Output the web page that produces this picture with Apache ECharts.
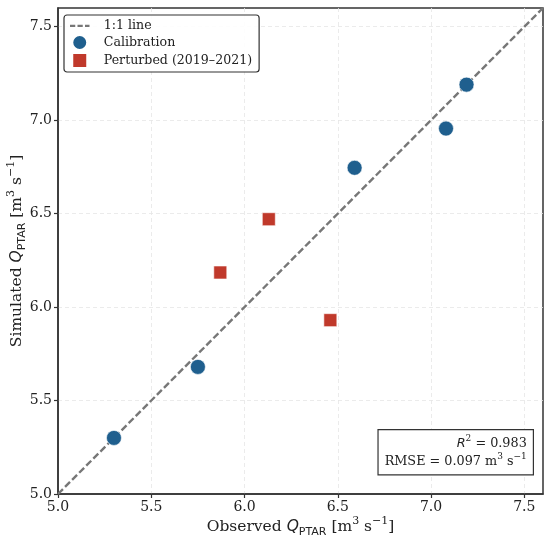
<!DOCTYPE html>
<html>
<head>
<meta charset="utf-8">
<script src="https://cdn.jsdelivr.net/npm/echarts@6/dist/echarts.min.js"></script>
<style>html,body{margin:0;padding:0;background:#fff}#c{width:550px;height:542px}</style>
</head>
<body>
<div id="c"></div>
<script>
// Data
var calibrationObserved = [5.30, 5.75, 6.59, 7.08, 7.19];
var calibrationSimulated = [5.30, 5.68, 6.745, 6.955, 7.19];
var perturbedObserved = [5.87, 6.13, 6.46];
var perturbedSimulated = [6.185, 6.47, 5.93];
var oneToOne = [5.0, 7.6];
var tickValues = [5.0, 5.5, 6.0, 6.5, 7.0, 7.5];
var r2Text = '0.983';
var rmseText = '0.097';

var SERIF = '"DejaVu Serif", serif';
var SANS = '"DejaVu Sans", sans-serif';

function zip(a, b) { return a.map(function (v, i) { return [v, b[i]]; }); }

var nameRich = {
  base: { fontFamily: SERIF, fontSize: 15.5, color: '#222', lineHeight: 22, verticalAlign: 'middle' },
  i: { fontFamily: SANS, fontStyle: 'italic', fontSize: 15.5, color: '#222', lineHeight: 22 },
  sub: { fontFamily: SANS, fontSize: 11, color: '#222', lineHeight: 14, verticalAlign: 'bottom' },
  sup: { fontFamily: SERIF, fontSize: 11, color: '#222', lineHeight: 13, verticalAlign: 'top' }
};

function axisCommon(name, isY) {
  return {
    type: 'value',
    min: 5.0,
    max: 7.6,
    interval: 0.5,
    name: name,
    nameLocation: 'middle',
    nameMoveOverlap: false,
    nameGap: isY ? 30 : 22,
    nameRotate: isY ? 90 : 0,
    nameTextStyle: { fontFamily: SERIF, fontSize: 15.5, color: '#222', rich: nameRich },
    axisLine: { show: true, onZero: false, lineStyle: { color: '#333', width: 1.5 } },
    axisTick: { show: true, length: 4, lineStyle: { color: '#333', width: 1.2 } },
    axisLabel: {
      fontFamily: SERIF, fontSize: 14, color: '#222', margin: 6,
      showMaxLabel: false,
      formatter: function (v) {
        for (var k = 0; k < tickValues.length; k++) {
          if (Math.abs(v - tickValues[k]) < 1e-6) return tickValues[k].toFixed(1);
        }
        return '';
      }
    },
    splitLine: { show: true, showMinLine: false, showMaxLine: false, lineStyle: { color: '#e6e6e6', width: 0.8, type: [4, 3] } }
  };
}

var chart = echarts.init(document.getElementById('c'), null, { renderer: 'canvas' });
chart.setOption({
  animation: false,
  backgroundColor: '#fff',
  grid: { left: 58, right: 7, top: 8, bottom: 48, show: true, borderColor: '#333', borderWidth: 1.5, backgroundColor: 'transparent', outerBoundsMode: 'none', containLabel: false },
  xAxis: axisCommon('{base|Observed }{i|Q}{sub|PTAR}{base| [m}{sup|3}{base| s}{sup|−1}{base|]}', false),
  yAxis: axisCommon('{base|Simulated }{i|Q}{sub|PTAR}{base| [m}{sup|3}{base| s}{sup|−1}{base|]}', true),
  legend: {
    orient: 'vertical',
    left: 64,
    top: 15,
    padding: [3, 7, 3, 6],
    itemGap: 1,
    itemWidth: 26,
    itemHeight: 15,
    borderColor: '#333',
    borderWidth: 1.2,
    borderRadius: 3,
    backgroundColor: 'rgba(255,255,255,0.9)',
    textStyle: { fontFamily: SERIF, fontSize: 12.6, color: '#222', padding: [0, 0, 0, 6] },
    data: [
      { name: '1:1 line', icon: 'path://M0,9h7v3h-7z M10,9h7v3h-7z M20,9h6v3h-6z M0,0h0.01v0.01h-0.01z M0,20h0.01v0.01h-0.01z', itemStyle: { color: '#777' } },
      { name: 'Calibration', icon: 'circle' },
      { name: 'Perturbed (2019–2021)', icon: 'path://M0,0L10,0L10,10L0,10Z' }
    ]
  },
  graphic: [{
    type: 'text',
    right: 16,
    top: 429,
    z: 100,
    style: {
      text: '{i|R}{sup|2}{b| = ' + r2Text + '}\n{b|RMSE = ' + rmseText + ' m}{sup|3}{b| s}{sup|−1}',
      align: 'right',
      backgroundColor: '#fff',
      borderColor: '#333',
      borderWidth: 1.2,
      padding: [4, 6, 4, 6],
      rich: {
        b: { fontFamily: SERIF, fontSize: 12.8, fill: '#222', color: '#222', lineHeight: 18, align: 'right' },
        i: { fontFamily: SANS, fontStyle: 'italic', fontSize: 12.8, fill: '#222', color: '#222', lineHeight: 18, align: 'right' },
        sup: { fontFamily: SERIF, fontSize: 9, fill: '#222', color: '#222', lineHeight: 12, verticalAlign: 'top', align: 'right' }
      }
    }
  }],
  series: [
    {
      name: '1:1 line',
      type: 'line',
      data: zip(oneToOne, oneToOne),
      symbol: 'none',
      z: 2,
      lineStyle: { color: '#777', width: 2.4, type: [7, 3] },
      itemStyle: { color: '#777' }
    },
    {
      name: 'Calibration',
      type: 'scatter',
      data: zip(calibrationObserved, calibrationSimulated),
      symbol: 'circle',
      symbolSize: 15,
      z: 3,
      itemStyle: { color: '#1f5f8e', borderColor: '#fff', borderWidth: 0.6, opacity: 1 }
    },
    {
      name: 'Perturbed (2019–2021)',
      type: 'scatter',
      data: zip(perturbedObserved, perturbedSimulated),
      symbol: 'rect',
      symbolSize: 13,
      z: 3,
      itemStyle: { color: '#c0392b', borderColor: '#fff', borderWidth: 0.6, opacity: 1 }
    }
  ]
});
</script>
</body>
</html>
